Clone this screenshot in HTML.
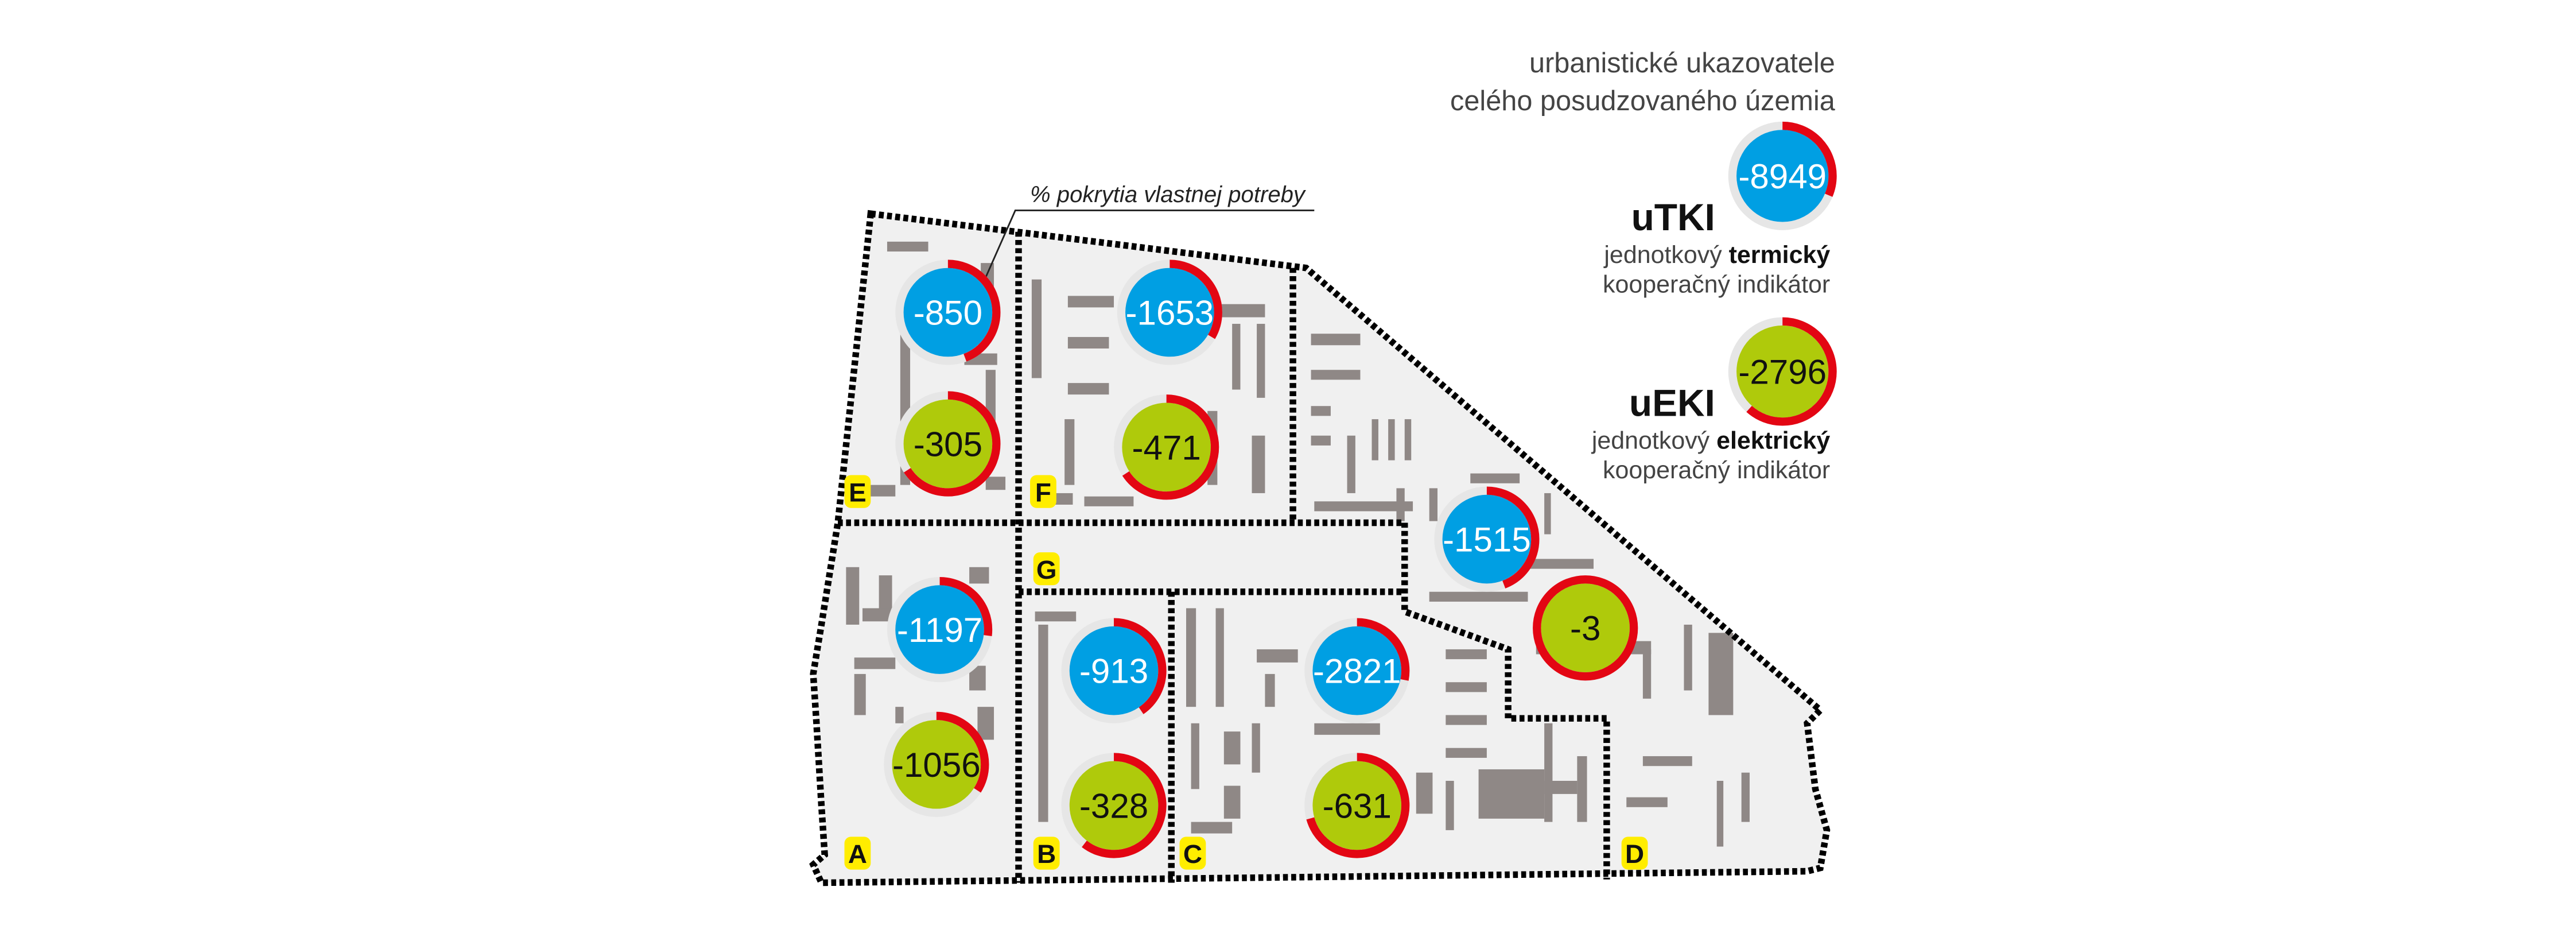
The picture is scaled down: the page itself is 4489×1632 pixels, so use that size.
<!DOCTYPE html>
<html><head><meta charset="utf-8"><style>
html,body{margin:0;padding:0;background:#fff;}
svg{display:block;}
text{font-family:"Liberation Sans Narrow","Liberation Sans","DejaVu Sans Condensed",sans-serif;}
</style></head><body>
<svg width="4489" height="1632" viewBox="0 0 1568 570" preserveAspectRatio="none" xmlns="http://www.w3.org/2000/svg">
<polygon points="530,130 795,163 1108,432 1100,440 1105,480 1112,505 1108,528 1100,530 500,537 495,526 502,520 500,490 497,440 495,410 500,380 510,318" fill="#f0f0f0"/>
<g fill="#8f8886">
<rect x="540" y="147" width="25" height="6"/><rect x="597" y="160" width="8" height="45"/><rect x="548" y="200" width="6" height="95"/>
<rect x="587" y="215" width="20" height="7"/><rect x="600" y="225" width="6" height="50"/><rect x="515" y="295" width="30" height="7"/><rect x="600" y="290" width="12" height="8"/>
<rect x="628" y="170" width="6" height="60"/><rect x="650" y="180" width="28" height="7"/><rect x="650" y="205" width="25" height="7"/><rect x="650" y="233" width="25" height="7"/>
<rect x="740" y="185" width="30" height="8"/><rect x="750" y="197" width="5" height="40"/><rect x="765" y="197" width="5" height="45"/><rect x="628" y="300" width="25" height="7"/>
<rect x="648" y="255" width="6" height="40"/><rect x="735" y="250" width="6" height="45"/><rect x="762" y="265" width="8" height="35"/><rect x="660" y="302" width="30" height="6"/>
<rect x="798" y="203" width="30" height="7"/><rect x="798" y="225" width="30" height="6"/><rect x="798" y="247" width="12" height="6"/><rect x="798" y="265" width="12" height="6"/>
<rect x="820" y="265" width="5" height="35"/><rect x="835" y="255" width="4" height="25"/><rect x="845" y="255" width="4" height="25"/><rect x="855" y="255" width="4" height="25"/>
<rect x="895" y="288" width="30" height="6"/><rect x="850" y="297" width="5" height="20"/><rect x="870" y="297" width="5" height="20"/><rect x="940" y="300" width="4" height="25"/>
<rect x="800" y="305" width="60" height="6"/><rect x="930" y="340" width="40" height="6"/><rect x="870" y="360" width="60" height="6"/>
<rect x="515" y="345" width="8" height="35"/><rect x="535" y="350" width="8" height="25"/><rect x="590" y="345" width="12" height="10"/><rect x="525" y="370" width="20" height="8"/>
<rect x="520" y="400" width="25" height="7"/><rect x="520" y="410" width="7" height="25"/><rect x="590" y="405" width="10" height="15"/><rect x="595" y="430" width="10" height="20"/>
<rect x="545" y="430" width="5" height="10"/><rect x="632" y="380" width="6" height="120"/><rect x="630" y="372" width="25" height="6"/>
<rect x="722" y="370" width="6" height="60"/><rect x="740" y="370" width="5" height="60"/><rect x="765" y="395" width="25" height="8"/><rect x="770" y="410" width="6" height="20"/>
<rect x="725" y="440" width="5" height="40"/><rect x="745" y="445" width="10" height="20"/><rect x="762" y="440" width="5" height="30"/><rect x="745" y="478" width="10" height="20"/>
<rect x="725" y="500" width="25" height="7"/><rect x="800" y="440" width="40" height="7"/><rect x="880" y="395" width="25" height="6"/><rect x="880" y="415" width="25" height="6"/>
<rect x="880" y="435" width="25" height="6"/><rect x="880" y="455" width="25" height="6"/><rect x="862" y="470" width="10" height="25"/><rect x="880" y="475" width="5" height="30"/>
<rect x="900" y="468" width="40" height="30"/><rect x="940" y="475" width="20" height="8"/><rect x="960" y="460" width="6" height="40"/><rect x="935" y="390" width="70" height="8"/>
<rect x="940" y="440" width="5" height="60"/><rect x="1000" y="460" width="30" height="6"/><rect x="1040" y="385" width="15" height="50"/><rect x="1045" y="475" width="4" height="40"/>
<rect x="1060" y="470" width="5" height="30"/><rect x="990" y="485" width="25" height="6"/><rect x="1025" y="380" width="5" height="40"/><rect x="1000" y="395" width="5" height="30"/>
</g>
<g fill="none" stroke="#000" stroke-width="4" stroke-dasharray="3,2">
<polygon points="530,130 795,163 1108,432 1100,440 1105,480 1112,505 1108,528 1100,530 500,537 495,526 502,520 500,490 497,440 495,410 500,380 510,318"/>
<line x1="620" y1="141" x2="620" y2="537"/>
<line x1="510" y1="318" x2="855" y2="318"/>
<line x1="787" y1="163" x2="787" y2="318"/>
<polyline points="855,318 855,372 918,395 918,437 978,437 978,535"/>
<line x1="620" y1="360" x2="855" y2="360"/>
<line x1="713" y1="360" x2="713" y2="537"/>
</g>
<text x="627" y="123" font-size="14" font-style="italic" fill="#222">% pokrytia vlastnej potreby</text>
<polyline points="800,128 618,128 595,180" fill="none" stroke="#222" stroke-width="1"/>
<g font-size="21" text-anchor="middle">
<g transform="translate(577,190)"><circle r="32" fill="#e6e6e6"/><circle r="27" fill="#009fe3"/><circle r="29.5" fill="none" stroke="#e30613" stroke-width="5" stroke-dasharray="82 200" transform="rotate(-90)"/><text y="7.5" fill="#fff">-850</text></g>
<g transform="translate(577,270)"><circle r="32" fill="#e6e6e6"/><circle r="27" fill="#afca0b"/><circle r="29.5" fill="none" stroke="#e30613" stroke-width="5" stroke-dasharray="122 200" transform="rotate(-90)"/><text y="7.5" fill="#111">-305</text></g>
<g transform="translate(712,190)"><circle r="32" fill="#e6e6e6"/><circle r="27" fill="#009fe3"/><circle r="29.5" fill="none" stroke="#e30613" stroke-width="5" stroke-dasharray="62 200" transform="rotate(-90)"/><text y="7.5" fill="#fff">-1653</text></g>
<g transform="translate(710,272)"><circle r="32" fill="#e6e6e6"/><circle r="27" fill="#afca0b"/><circle r="29.5" fill="none" stroke="#e30613" stroke-width="5" stroke-dasharray="122 200" transform="rotate(-90)"/><text y="7.5" fill="#111">-471</text></g>
<g transform="translate(905,328)"><circle r="32" fill="#e6e6e6"/><circle r="27" fill="#009fe3"/><circle r="29.5" fill="none" stroke="#e30613" stroke-width="5" stroke-dasharray="82 200" transform="rotate(-90)"/><text y="7.5" fill="#fff">-1515</text></g>
<g transform="translate(965,382)"><circle r="32" fill="#e6e6e6"/><circle r="27" fill="#afca0b"/><circle r="29.5" fill="none" stroke="#e30613" stroke-width="5"/><text y="7.5" fill="#111">-3</text></g>
<g transform="translate(572,383)"><circle r="32" fill="#e6e6e6"/><circle r="27" fill="#009fe3"/><circle r="29.5" fill="none" stroke="#e30613" stroke-width="5" stroke-dasharray="50 200" transform="rotate(-90)"/><text y="7.5" fill="#fff">-1197</text></g>
<g transform="translate(570,465)"><circle r="32" fill="#e6e6e6"/><circle r="27" fill="#afca0b"/><circle r="29.5" fill="none" stroke="#e30613" stroke-width="5" stroke-dasharray="63 200" transform="rotate(-90)"/><text y="7.5" fill="#111">-1056</text></g>
<g transform="translate(678,408)"><circle r="32" fill="#e6e6e6"/><circle r="27" fill="#009fe3"/><circle r="29.5" fill="none" stroke="#e30613" stroke-width="5" stroke-dasharray="75 200" transform="rotate(-90)"/><text y="7.5" fill="#fff">-913</text></g>
<g transform="translate(678,490)"><circle r="32" fill="#e6e6e6"/><circle r="27" fill="#afca0b"/><circle r="29.5" fill="none" stroke="#e30613" stroke-width="5" stroke-dasharray="112 200" transform="rotate(-90)"/><text y="7.5" fill="#111">-328</text></g>
<g transform="translate(826,408)"><circle r="32" fill="#e6e6e6"/><circle r="27" fill="#009fe3"/><circle r="29.5" fill="none" stroke="#e30613" stroke-width="5" stroke-dasharray="52 200" transform="rotate(-90)"/><text y="7.5" fill="#fff">-2821</text></g>
<g transform="translate(826,490)"><circle r="32" fill="#e6e6e6"/><circle r="27" fill="#afca0b"/><circle r="29.5" fill="none" stroke="#e30613" stroke-width="5" stroke-dasharray="131 200" transform="rotate(-90)"/><text y="7.5" fill="#111">-631</text></g>
<g transform="translate(1085,107)"><circle r="33" fill="#e6e6e6"/><circle r="28" fill="#009fe3"/><circle r="30.5" fill="none" stroke="#e30613" stroke-width="5" stroke-dasharray="60 200" transform="rotate(-90)"/><text y="7.5" fill="#fff">-8949</text></g>
<g transform="translate(1085,226)"><circle r="33" fill="#e6e6e6"/><circle r="28" fill="#afca0b"/><circle r="30.5" fill="none" stroke="#e30613" stroke-width="5" stroke-dasharray="118 200" transform="rotate(-90)"/><text y="7.5" fill="#111">-2796</text></g>
</g>
<g font-size="16" font-weight="bold" text-anchor="middle" fill="#111">
<rect x="514" y="289" width="16" height="20" rx="4" fill="#ffed00"/><text x="522" y="305">E</text>
<rect x="627" y="289" width="16" height="20" rx="4" fill="#ffed00"/><text x="635" y="305">F</text>
<rect x="629" y="336" width="16" height="20" rx="4" fill="#ffed00"/><text x="637" y="352">G</text>
<rect x="514" y="509" width="16" height="20" rx="4" fill="#ffed00"/><text x="522" y="525">A</text>
<rect x="629" y="509" width="16" height="20" rx="4" fill="#ffed00"/><text x="637" y="525">B</text>
<rect x="718" y="509" width="16" height="20" rx="4" fill="#ffed00"/><text x="726" y="525">C</text>
<rect x="987" y="509" width="16" height="20" rx="4" fill="#ffed00"/><text x="995" y="525">D</text>
</g>
<g text-anchor="end" fill="#444">
<text x="1117" y="44" font-size="17">urbanistické ukazovatele</text>
<text x="1117" y="67" font-size="17">celého posudzovaného územia</text>
<text x="1044" y="140" font-size="23" font-weight="bold" fill="#111">uTKI</text>
<text x="1114" y="160" font-size="15">jednotkový <tspan font-weight="bold" fill="#111">termický</tspan></text>
<text x="1114" y="178" font-size="15">kooperačný indikátor</text>
<text x="1044" y="253" font-size="23" font-weight="bold" fill="#111">uEKI</text>
<text x="1114" y="273" font-size="15">jednotkový <tspan font-weight="bold" fill="#111">elektrický</tspan></text>
<text x="1114" y="291" font-size="15">kooperačný indikátor</text>
</g>
</svg>
</body></html>
